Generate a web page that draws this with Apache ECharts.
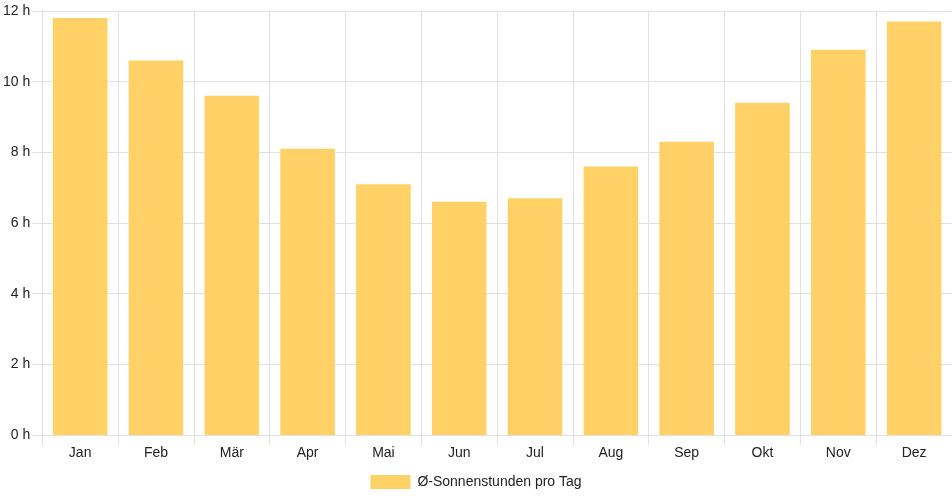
<!DOCTYPE html>
<html>
<head>
<meta charset="utf-8">
<script src="https://cdn.jsdelivr.net/npm/echarts@6/dist/echarts.min.js"></script>
<style>
    html, body { margin: 0; padding: 0; background: #fff; }
    #chart { width: 952px; height: 500px; }
</style>
</head>
<body>
<div id="chart"></div>
<script>
    // Monatsnamen und Werte
    var months = ["Jan", "Feb", "Mär", "Apr", "Mai", "Jun", "Jul", "Aug", "Sep", "Okt", "Nov", "Dez"];
    var sunHours = [11.8, 10.6, 9.6, 8.1, 7.1, 6.6, 6.7, 7.6, 8.3, 9.4, 10.9, 11.7];
    var seriesName = "Ø-Sonnenstunden pro Tag";

    var gridColor = "#e1e1e1";
    var textColor = "#222";

    var myChart = echarts.init(document.getElementById("chart"));
    var option = {
        animation: false,
        textStyle: { fontFamily: "Liberation Sans, Arial, sans-serif" },
        grid: { left: 42, right: 0, top: 11, bottom: 65, containLabel: false },
        legend: {
            bottom: 6,
            left: "center",
            icon: "rect",
            itemWidth: 40,
            itemHeight: 14,
            itemGap: 10,
            textStyle: { color: textColor, fontSize: 14, padding: [0, 0, 0, 2] },
            data: [seriesName]
        },
        xAxis: {
            type: "category",
            data: months,
            boundaryGap: true,
            axisLine: { show: true, lineStyle: { color: gridColor } },
            axisTick: { show: true, length: 10, lineStyle: { color: gridColor } },
            axisLabel: { color: textColor, fontSize: 14, margin: 11 },
            splitLine: { show: true, lineStyle: { color: gridColor } }
        },
        yAxis: {
            type: "value",
            min: 0,
            max: 12,
            interval: 2,
            axisLine: { show: true, lineStyle: { color: gridColor } },
            axisTick: { show: true, length: 10, lineStyle: { color: gridColor } },
            axisLabel: { color: textColor, fontSize: 14, margin: 12, formatter: "{value} h" },
            splitLine: { show: true, lineStyle: { color: gridColor } }
        },
        series: [
            {
                name: seriesName,
                type: "bar",
                data: sunHours,
                barCategoryGap: "28%",
                itemStyle: { color: "#ffd166" }
            }
        ]
    };
    myChart.setOption(option);
</script>
</body>
</html>
